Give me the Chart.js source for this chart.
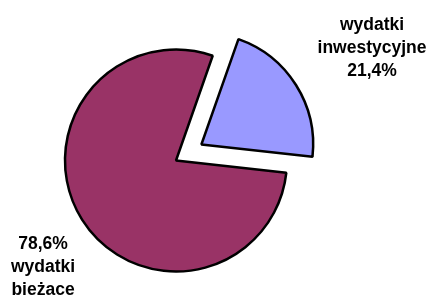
<!DOCTYPE html>
<html>
<head>
<meta charset="utf-8">
<script src="https://cdn.jsdelivr.net/npm/chart.js@4/dist/chart.umd.min.js"></script>
<style>
  html, body { margin: 0; padding: 0; background: #fff; }
  #wrap { width: 442px; height: 297px; position: relative; }
</style>
</head>
<body>
<div id="wrap"><canvas id="c"></canvas></div>
<script>
// dane
const categories = ['wydatki inwestycyjne', 'wydatki bieżace'];
const values = [21.4, 78.6];
const labelLines = [
  ['wydatki', 'inwestycyjne', '21,4%'],
  ['78,6%', 'wydatki', 'bieżace']
];
const colors = ['#9999FF', '#993366'];

// etykiety poza kołem
const outsideLabels = {
  id: 'outsideLabels',
  afterDraw(chart) {
    const cfg = chart.options.plugins.outsideLabels;
    const { ctx } = chart;
    ctx.save();
    ctx.font = 'bold 17.5px "Liberation Sans", Arial, sans-serif';
    ctx.fillStyle = '#000';
    ctx.textAlign = 'center';
    ctx.textBaseline = 'middle';
    cfg.anchors.forEach((a, i) => {
      labelLines[i].forEach((line, j) => {
        ctx.fillText(line, a.x, a.y + j * cfg.lineHeight);
      });
    });
    ctx.restore();
  }
};

new Chart(document.getElementById('c'), {
  type: 'pie',
  data: {
    labels: categories,
    datasets: [{
      data: values,
      backgroundColor: colors,
      borderColor: '#000',
      borderWidth: 2.5,
      borderAlign: 'center',
      offset: [120, 0] // chart.js dzieli offset przez 4
    }]
  },
  plugins: [outsideLabels],
  options: {
    responsive: true,
    maintainAspectRatio: false,
    animation: false,
    rotation: 19.3,
    radius: 111,
    layout: { padding: { left: 0, right: 90, top: 24, bottom: 0 } },
    plugins: {
      legend: { display: false },
      tooltip: { enabled: false },
      outsideLabels: {
        lineHeight: 23,
        anchors: [{ x: 372, y: 25 }, { x: 43, y: 244 }]
      }
    }
  }
});
</script>
</body>
</html>
